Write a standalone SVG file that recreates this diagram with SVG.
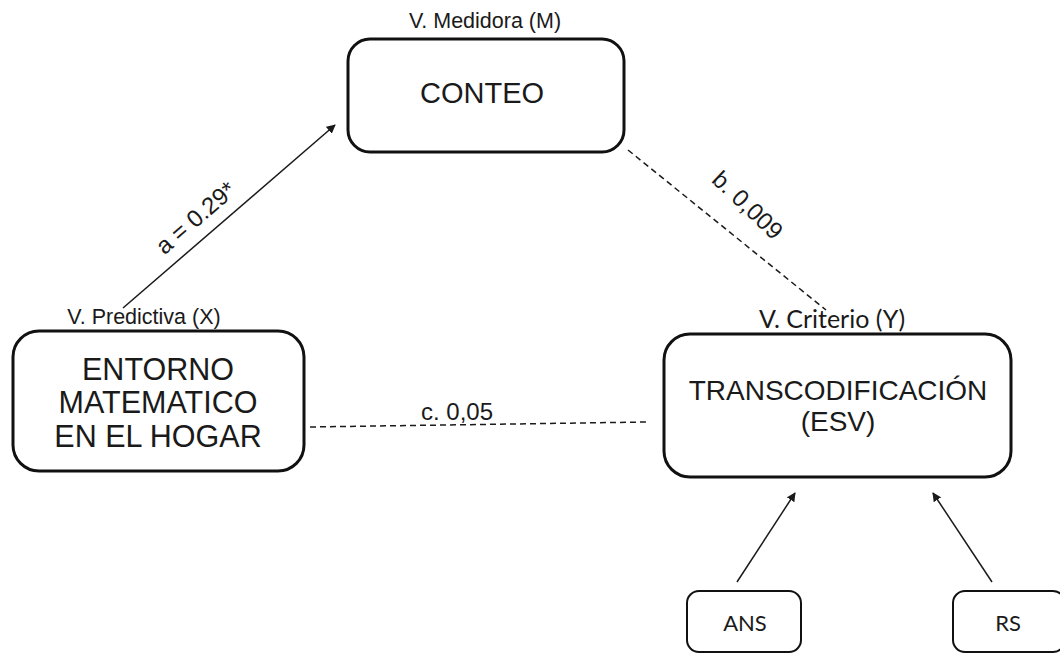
<svg xmlns="http://www.w3.org/2000/svg" width="1060" height="654" viewBox="0 0 1060 654">
  <defs>
    <marker id="arrow" viewBox="0 0 10 10" refX="9" refY="5" markerWidth="9" markerHeight="9" markerUnits="userSpaceOnUse" orient="auto">
      <path d="M0,0 L10,5 L0,10 z" fill="#1a1a1a"/>
    </marker>
    <style>
      .box { fill: #ffffff; stroke: #111111; stroke-width: 3; }
      .small-box { fill: #ffffff; stroke: #111111; stroke-width: 2; }
      .arial { font-family: "Liberation Sans", Arial, sans-serif; fill: #1a1a1a; }
      .calib { font-family: Lato, "Open Sans", sans-serif; fill: #1a1a1a; }
      .big { font-size: 30.5px; text-anchor: middle; }
      .mid { font-size: 28px; text-anchor: middle; }
      .cap { font-size: 21.5px; text-anchor: middle; }
      .lbl { font-size: 24px; text-anchor: middle; }
      .solid { stroke: #1a1a1a; stroke-width: 1.5; fill: none; }
      .dash { stroke: #1a1a1a; stroke-width: 1.5; fill: none; stroke-dasharray: 6 4; }
    </style>
  </defs>

  <!-- connectors -->
  <g id="connectors">
    <line class="solid" x1="123" y1="308" x2="335" y2="125" marker-end="url(#arrow)"/>
    <line class="dash" x1="628" y1="150" x2="826" y2="310"/>
    <line class="dash" x1="310" y1="427" x2="647" y2="422"/>
    <line class="solid" x1="737" y1="582" x2="795" y2="493" marker-end="url(#arrow)"/>
    <line class="solid" x1="992" y1="582" x2="933" y2="493" marker-end="url(#arrow)"/>
    <text class="arial lbl" transform="translate(201,224) rotate(-40.8)">a = 0.29*</text>
    <text class="arial lbl" transform="translate(742,211) rotate(43.5)">b. 0,009</text>
    <text class="arial lbl" x="457" y="420">c. 0,05</text>
  </g>

  <!-- mediator -->
  <g id="node-conteo">
    <text class="arial cap" x="485" y="28">V. Medidora (M)</text>
    <rect class="box" x="348" y="39" width="276" height="113" rx="22"/>
    <text class="arial mid" x="482" y="103" style="font-size:29px">CONTEO</text>
  </g>

  <!-- predictor -->
  <g id="node-entorno">
    <text class="arial cap" x="144" y="324">V. Predictiva (X)</text>
    <rect class="box" x="13" y="331" width="291" height="140" rx="26"/>
    <text class="arial big" x="158" y="380">ENTORNO</text>
    <text class="arial big" x="158" y="413">MATEMATICO</text>
    <text class="arial big" x="158" y="447">EN EL HOGAR</text>
  </g>

  <!-- criterion -->
  <g id="node-transcodificacion">
    <text class="calib cap" x="832" y="328" style="font-size:25px">V. Criterio (Y)</text>
    <rect class="box" x="664" y="334" width="347" height="143" rx="26"/>
    <text class="arial mid" x="838" y="400">TRANSCODIFICACIÓN</text>
    <text class="arial mid" x="838" y="431">(ESV)</text>
  </g>

  <!-- covariates -->
  <g id="node-ans">
    <rect class="small-box" x="687" y="591" width="114" height="61" rx="12"/>
    <text class="calib cap" x="745" y="631" style="font-size:22px">ANS</text>
  </g>
  <g id="node-rs">
    <rect class="small-box" x="953" y="591" width="112" height="61" rx="12"/>
    <text class="calib cap" x="1008" y="631" style="font-size:22px">RS</text>
  </g>
</svg>
